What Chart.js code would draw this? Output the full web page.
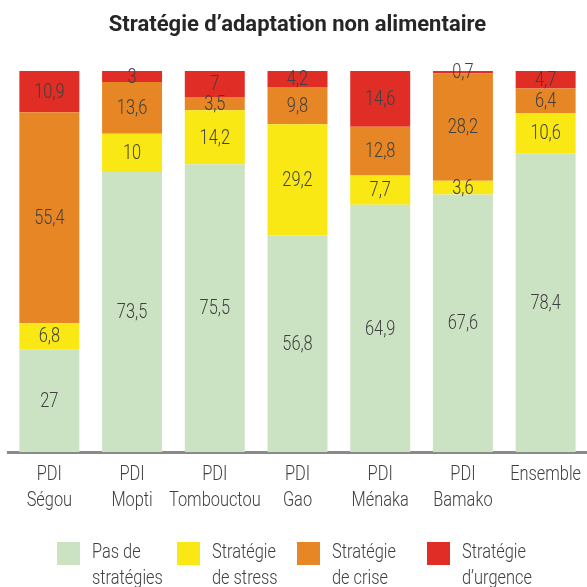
<!DOCTYPE html>
<html lang="fr">
<head>
<meta charset="utf-8">
<title>Stratégie d'adaptation non alimentaire</title>
<script src="https://cdn.jsdelivr.net/npm/chart.js@4.4.1/dist/chart.umd.min.js"></script>
<style>
  html, body { margin: 0; padding: 0; background: #ffffff; }
  #wrap { width: 587px; height: 587px; position: relative; }
</style>
</head>
<body>
<div id="wrap"><canvas id="chart" width="587" height="587"></canvas></div>
<script>
// Zones (populations déplacées internes) et ensemble
const categories = [
  ["PDI", "Ségou"],
  ["PDI", "Mopti"],
  ["PDI", "Tombouctou"],
  ["PDI", "Gao"],
  ["PDI", "Ménaka"],
  ["PDI", "Bamako"],
  ["Ensemble"]
];

// Répartition des ménages (%) par stratégie
const pasDeStrategies   = [27, 73.5, 75.5, 56.8, 64.9, 67.6, 78.4];
const strategieStress   = [6.8, 10, 14.2, 29.2, 7.7, 3.6, 10.6];
const strategieCrise    = [55.4, 13.6, 3.5, 9.8, 12.8, 28.2, 6.4];
const strategieUrgence  = [10.9, 3, 7, 4.2, 14.6, 0.7, 4.7];

const seriesNames = [
  ["Pas de", "stratégies"],
  ["Stratégie", "de stress"],
  ["Stratégie", "de crise"],
  ["Stratégie", "d\u2019urgence"]
];
const seriesColors = ["#CCE3C3", "#F9E814", "#E78624", "#E02D26"];

const TITLE = "Stratégie d\u2019adaptation non alimentaire";
const FONT = "Roboto, 'DejaVu Sans', sans-serif";
const TEXT = "#404040";
const NARROW = 0.78;   // compression horizontale : rendu « condensed »
const LEGEND_X = [57, 177, 297, 427];

// Texte condensé horizontalement autour du point d'ancrage
function narrowText(ctx, txt, x, y, align) {
  ctx.save();
  ctx.translate(x, y);
  ctx.scale(NARROW, 1);
  ctx.textAlign = align || "center";
  ctx.fillText(txt, 0, 0);
  ctx.restore();
}

// Titre, valeurs des segments, libellés d'axe et légende
const drawTexts = {
  id: "drawTexts",
  afterDatasetsDraw(chart) {
    const ctx = chart.ctx;
    const xs = chart.scales.x;
    const area = chart.chartArea;
    ctx.save();
    ctx.textBaseline = "middle";

    // titre
    ctx.font = "bold 22px " + FONT;
    ctx.fillStyle = "#262626";
    ctx.textAlign = "center";
    ctx.fillText(TITLE, (area.left + area.right) / 2, 25);

    // valeurs au centre de chaque segment
    ctx.font = "300 21px " + FONT;
    ctx.fillStyle = TEXT;
    chart.data.datasets.forEach((ds, di) => {
      chart.getDatasetMeta(di).data.forEach((bar, i) => {
        const txt = String(ds.data[i]).replace(".", ",");
        narrowText(ctx, txt, bar.x, (bar.y + bar.base) / 2 + 1);
      });
    });

    // libellés des catégories sous l'axe
    categories.forEach((lines, i) => {
      const x = xs.getPixelForTick(i);
      lines.forEach((l, j) => narrowText(ctx, l, x, area.bottom + 23 + j * 26));
    });

    // légende
    const box = 23, boxGap = 12;
    const top = 542;
    seriesNames.forEach((lines, k) => {
      const x = LEGEND_X[k];
      ctx.fillStyle = seriesColors[k];
      ctx.fillRect(x, top, box, box);
      ctx.fillStyle = TEXT;
      lines.forEach((l, j) => narrowText(ctx, l, x + box + boxGap, top + 11 + j * 26, "left"));
    });
    ctx.restore();
  }
};

const seriesData = [pasDeStrategies, strategieStress, strategieCrise, strategieUrgence];

new Chart(document.getElementById("chart"), {
  type: "bar",
  data: {
    labels: categories.map(l => l.join(" ")),
    datasets: seriesData.map((d, k) => ({
      label: seriesNames[k].join(" "),
      data: d,
      backgroundColor: seriesColors[k],
      borderWidth: 0,
      barPercentage: 0.725,
      categoryPercentage: 1
    }))
  },
  options: {
    responsive: false,
    animation: false,
    layout: { padding: { left: 8, right: 0, top: 71, bottom: 135 } },
    plugins: {
      legend: { display: false },
      tooltip: { enabled: false },
      title: { display: false }
    },
    scales: {
      x: {
        stacked: true,
        grid: { display: false, drawTicks: false },
        border: { display: true, color: "#8a8a8a", width: 3 },
        ticks: { display: false }
      },
      y: {
        stacked: true,
        display: false,
        min: 0,
        max: 100
      }
    }
  },
  plugins: [drawTexts]
});
</script>
</body>
</html>
